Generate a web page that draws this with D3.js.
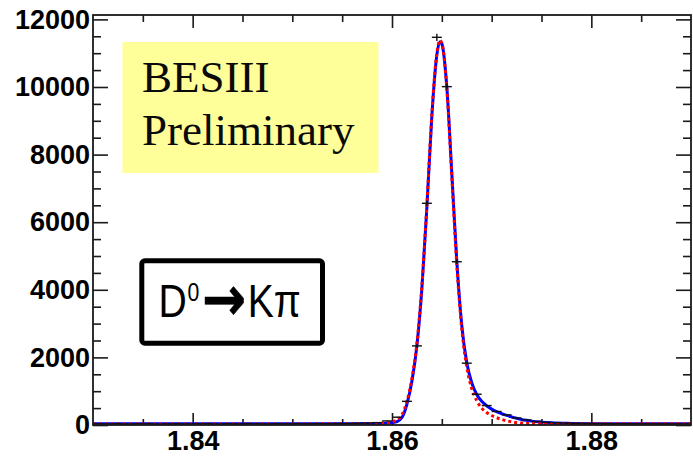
<!DOCTYPE html>
<html><head><meta charset="utf-8">
<script src="https://cdn.jsdelivr.net/npm/d3@7"></script>
<style>
html,body{margin:0;padding:0;background:#fff;}
svg{display:block;}
</style></head><body>
<svg id="chart" width="693" height="458"></svg>
<script>
// Kπ invariant mass spectrum: 1 MeV bins from 1.830 to 1.890 GeV
const binLow = 1.830;
const binWidth = 0.001;
const counts = [
  35, 32, 38, 30, 36, 40, 28, 34, 37, 31,
  36, 39, 30, 37, 33, 41, 36, 31, 38, 35,
  40, 37, 42, 38, 45, 43, 48, 55, 70, 120,
  230, 700, 2340, 6560, 11470, 10010, 4830, 1830, 910, 575,
  400, 300, 205, 150, 105, 80, 65, 56, 50, 46,
  43, 41, 39, 38, 36, 35, 34, 33, 32, 31
];

// Fit curves sampled along the mass axis
const fitX = [1.830, 1.840, 1.850, 1.855, 1.858, 1.8595, 1.8600, 1.8605, 1.8610, 1.8615,
  1.8620, 1.8625, 1.8630, 1.8635, 1.8640, 1.8645, 1.8648, 1.8650, 1.8655, 1.8660,
  1.8665, 1.8670, 1.8675, 1.8680, 1.8685, 1.8690, 1.8695, 1.8700, 1.8705, 1.8710,
  1.8715, 1.8720, 1.8725, 1.8730, 1.8735, 1.8740, 1.8750, 1.8760, 1.8780, 1.8800,
  1.8850, 1.8900];
const fitTotal = [35, 36, 38, 40, 45, 55, 70, 100, 220, 620,
  1300, 2350, 4050, 6450, 9150, 10950, 11340, 11280, 10000, 7450,
  4850, 2950, 1850, 1250, 900, 700, 570, 470, 395, 335,
  285, 240, 200, 165, 138, 115, 85, 65, 48, 40,
  36, 34];
const fitSignal = [30, 30, 32, 35, 42, 60, 90, 150, 300, 700,
  1380, 2420, 4120, 6520, 9200, 11000, 11380, 11300, 9950, 7350,
  4750, 2850, 1720, 1080, 720, 500, 370, 280, 215, 165,
  125, 95, 72, 56, 46, 40, 33, 31, 30, 30,
  28, 27];

const xMajorTicks = [1.84, 1.86, 1.88];
const xTickLabels = ["1.84", "1.86", "1.88"];
const xMinorTicks = [1.835, 1.845, 1.85, 1.855, 1.865, 1.87, 1.875, 1.885];
const yMajorTicks = [0, 2000, 4000, 6000, 8000, 10000, 12000];
const yTickLabels = ["0", "2000", "4000", "6000", "8000", "10000", "12000"];
const yMinorTicks = [500, 1000, 1500, 2500, 3000, 3500, 4500, 5000, 5500, 6500, 7000, 7500,
  8500, 9000, 9500, 10500, 11000, 11500];

const frame = {left: 93, right: 691, top: 15, bottom: 425};
const svg = d3.select("#chart");

const x = d3.scaleLinear().domain([1.830, 1.890]).range([frame.left, frame.right]);
const y = d3.scaleLinear().domain([0, 12130]).range([frame.bottom, frame.top]);

svg.append("defs").append("clipPath").attr("id", "plotClip")
  .append("rect")
  .attr("x", frame.left).attr("y", frame.top - 2)
  .attr("width", frame.right - frame.left).attr("height", frame.bottom - frame.top + 2);

// Axes (ticks point into the frame, as on all four sides)
function styleAxis(g, labels) {
  g.select(".domain").remove();
  g.selectAll(".tick line").attr("stroke", "#1a1a1a").attr("stroke-width", 1.6);
  g.selectAll(".tick text")
    .attr("fill", "#000")
    .style("font-family", "'Liberation Sans', Arial, sans-serif")
    .style("font-weight", "bold")
    .style("font-size", "27px");
  if (!labels) g.selectAll(".tick text").remove();
}

svg.append("g").attr("transform", `translate(${frame.left},0)`)
  .call(d3.axisLeft(y).tickValues(yMajorTicks).tickFormat((d, i) => yTickLabels[i]).tickSize(-15).tickPadding(3))
  .call(g => styleAxis(g, true));
svg.append("g").attr("transform", `translate(${frame.left},0)`)
  .call(d3.axisLeft(y).tickValues(yMinorTicks).tickFormat("").tickSize(-8))
  .call(g => styleAxis(g, false));
svg.append("g").attr("transform", `translate(${frame.right},0)`)
  .call(d3.axisRight(y).tickValues(yMajorTicks).tickSize(-15))
  .call(g => styleAxis(g, false));
svg.append("g").attr("transform", `translate(${frame.right},0)`)
  .call(d3.axisRight(y).tickValues(yMinorTicks).tickSize(-8))
  .call(g => styleAxis(g, false));

svg.append("g").attr("transform", `translate(0,${frame.bottom})`)
  .call(d3.axisBottom(x).tickValues(xMajorTicks).tickFormat((d, i) => xTickLabels[i]).tickSize(-12).tickPadding(6))
  .call(g => styleAxis(g, true));
svg.append("g").attr("transform", `translate(0,${frame.bottom})`)
  .call(d3.axisBottom(x).tickValues(xMinorTicks).tickSize(-6))
  .call(g => styleAxis(g, false));
svg.append("g").attr("transform", `translate(0,${frame.top})`)
  .call(d3.axisTop(x).tickValues(xMajorTicks).tickSize(-13))
  .call(g => styleAxis(g, false));
svg.append("g").attr("transform", `translate(0,${frame.top})`)
  .call(d3.axisTop(x).tickValues(xMinorTicks).tickSize(-7))
  .call(g => styleAxis(g, false));

// Fit curves
const plot = svg.append("g").attr("clip-path", "url(#plotClip)");
const line = d3.line().x(d => x(d[0])).y(d => y(d[1])).curve(d3.curveMonotoneX);

plot.append("path")
  .attr("d", line(fitX.map((v, i) => [v, fitTotal[i]])))
  .attr("fill", "none").attr("stroke", "#0000ff").attr("stroke-width", 3);
plot.append("path")
  .attr("d", line(fitX.map((v, i) => [v, fitSignal[i]])))
  .attr("fill", "none").attr("stroke", "#ff0000").attr("stroke-width", 3)
  .attr("stroke-dasharray", "3,3");

// Data points with Poisson error bars
const bins = counts.map((c, i) => ({lo: binLow + i * binWidth, hi: binLow + (i + 1) * binWidth, c}));
const pts = plot.append("g").attr("stroke", "#111").attr("stroke-width", 1.4);
pts.selectAll("line.h").data(bins).join("line").attr("class", "h")
  .attr("x1", d => x(d.lo)).attr("x2", d => x(d.hi))
  .attr("y1", d => y(d.c)).attr("y2", d => y(d.c));
pts.selectAll("line.v").data(bins).join("line").attr("class", "v")
  .attr("x1", d => x((d.lo + d.hi) / 2)).attr("x2", d => x((d.lo + d.hi) / 2))
  .attr("y1", d => y(d.c - Math.sqrt(d.c))).attr("y2", d => y(d.c + Math.sqrt(d.c)));

// Frame
svg.append("rect")
  .attr("x", frame.left).attr("y", frame.top)
  .attr("width", frame.right - frame.left).attr("height", frame.bottom - frame.top)
  .attr("fill", "none").attr("stroke", "#1a1a1a").attr("stroke-width", 1.8);

// Collaboration label
svg.append("rect").attr("x", 122.5).attr("y", 42).attr("width", 256).attr("height", 131)
  .attr("fill", "#ffff99");
const serif = "'Liberation Serif', 'Times New Roman', serif";
svg.append("text").attr("x", 142).attr("y", 92).text("BESIII")
  .style("font-family", serif).style("font-size", "45px").attr("fill", "#0a0a0a");
svg.append("text").attr("x", 142).attr("y", 145).text("Preliminary")
  .style("font-family", serif).style("font-size", "45px").attr("fill", "#0a0a0a");

// Decay channel label
svg.append("rect").attr("x", 141.8).attr("y", 260.8).attr("width", 180.7).attr("height", 82.4)
  .attr("rx", 3).attr("fill", "#fff").attr("stroke", "#000").attr("stroke-width", 5);
const decay = svg.append("text")
  .attr("transform", "translate(158.5,316.7) scale(0.85,1)")
  .style("font-family", "'Liberation Sans', Arial, sans-serif")
  .style("font-size", "46px").attr("fill", "#000");
decay.append("tspan").text("D");
decay.append("tspan").attr("dy", -15.5).attr("dx", 1).style("font-size", "25px").text("0");
decay.append("tspan").attr("dy", 19).attr("dx", 3)
  .style("font-family", "'DejaVu Sans', sans-serif").style("font-weight", "bold").style("font-size", "62px")
  .attr("stroke", "#000").attr("stroke-width", 0.6).text("\u2192");
decay.append("tspan").attr("dy", -3.5).attr("dx", 2).text("K\u03c0");
</script>
</body></html>
